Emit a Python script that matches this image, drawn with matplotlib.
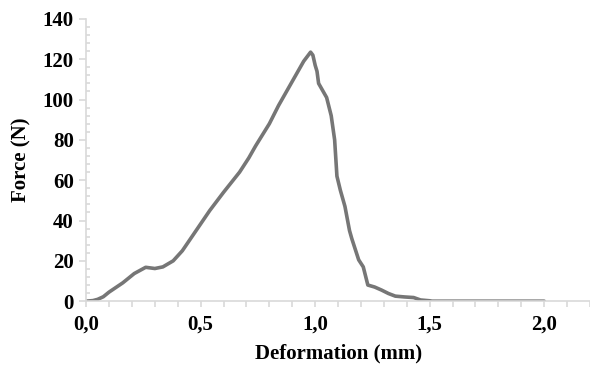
import matplotlib
matplotlib.use("Agg")
import matplotlib.pyplot as plt
from matplotlib.ticker import MultipleLocator, FuncFormatter

plt.rcParams.update({'font.family': 'Liberation Serif', 'font.weight': 'bold', 'font.size': 15})

# deformation (mm) and force (N)
deformation = [0, 0.03, 0.05, 0.075, 0.1, 0.16, 0.21, 0.26, 0.3, 0.335, 0.38, 0.42, 0.48, 0.54,
               0.6, 0.67, 0.71, 0.74, 0.8, 0.84, 0.885, 0.92, 0.95, 0.98, 0.99,
               1.0, 1.008, 1.015, 1.03, 1.05, 1.07, 1.085, 1.095, 1.11, 1.13,
               1.15, 1.16, 1.19, 1.21, 1.23, 1.26, 1.29, 1.32, 1.35, 1.39,
               1.43, 1.46, 1.5, 1.51, 2.0]
force = [0, 0.3, 0.9, 2.2, 4.5, 9.1, 13.7, 16.8, 16.2, 17, 20, 25, 35, 45,
         54, 64, 71, 77, 88, 97, 106, 113, 119, 123.5, 122,
         117, 114, 108, 105, 101, 92, 80, 62, 55, 47,
         35, 31, 20.5, 17, 8, 7, 5.5, 3.8, 2.5, 2.1,
         1.8, 0.6, 0.2, 0, 0]

axis_grey = "#d9d9d9"

fig = plt.figure(figsize=(5.9, 3.7), dpi=100)
ax = fig.add_axes([0.146, 0.186, 0.854, 0.763])

ax.plot(deformation, force, color="#767676", linewidth=2.6,
        solid_joinstyle="round", solid_capstyle="round")

ax.set_xlim(0, 2.2)
ax.set_ylim(0, 140)
ax.xaxis.set_major_locator(MultipleLocator(0.5))
ax.xaxis.set_minor_locator(MultipleLocator(0.1))
ax.yaxis.set_major_locator(MultipleLocator(20))
ax.yaxis.set_minor_locator(MultipleLocator(4))
ax.xaxis.set_major_formatter(FuncFormatter(lambda v, p: f"{v:.1f}".replace(".", ",")))

for s in ["top", "right"]:
    ax.spines[s].set_visible(False)
for s in ["left", "bottom"]:
    ax.spines[s].set_color(axis_grey)
    ax.spines[s].set_linewidth(1.2)

ax.tick_params(axis="x", which="both", direction="out", length=4, width=1.2, color=axis_grey, pad=6)
ax.tick_params(axis="y", which="major", direction="out", length=5, width=1.2, color=axis_grey, pad=4)
ax.tick_params(axis="y", which="minor", direction="in", length=3, width=1.2, color=axis_grey)

ax.set_xlabel("Deformation (mm)", fontweight="bold", labelpad=6)
ax.set_ylabel("Force (N)", fontweight="bold", labelpad=8)

plt.savefig("out.png", dpi=100)
plt.close()
